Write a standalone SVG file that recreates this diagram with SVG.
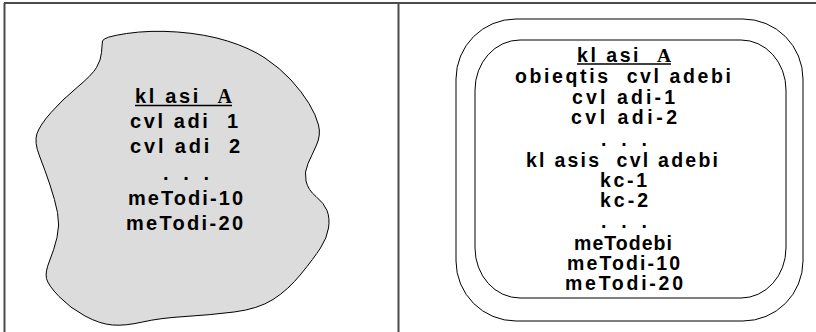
<svg xmlns="http://www.w3.org/2000/svg" width="816" height="332" viewBox="0 0 816 332">
<style>
  .frame { stroke: #4a4a4a; stroke-width: 2; fill: none; }
  .shape { stroke: #000; stroke-width: 1; }
  .t { font-family: "Liberation Sans", Arial, sans-serif; font-weight: bold; fill: #000; white-space: pre; }
  .l { font-size: 20px; }
  .r { font-size: 19.5px; }
  .ser { font-family: "Liberation Serif", "Times New Roman", serif; font-weight: bold; }
  .ul { stroke: #000; stroke-width: 1.3; }
</style>
<rect width="816" height="332" fill="#fff"/>
<g id="frame">
  <line class="frame" x1="4" y1="3" x2="816" y2="3"/>
  <line class="frame" x1="4.5" y1="3" x2="4.5" y2="332"/>
  <line class="frame" x1="398.5" y1="3" x2="398.5" y2="332"/>
</g>
<g id="left-node">
  <path class="shape" fill="#dcdcdc" d="M 126.5,33.5 Q150,30 177.5,32 Q205,34 227.5,41 Q250,48 265,58 Q280,68 291,80 Q302,92 309,103.5 Q316,115 318.5,125 Q321,135 316.5,145 Q312,155 308,163.5 Q304,172 306,181 Q308,190 316,196.5 Q324,203 327,210.5 Q330,218 328.5,228 Q327,238 320.5,248 Q314,258 301,274 Q288,290 273,299.5 Q258,309 234,312 Q210,315 185,316.5 Q160,318 142.5,322 Q125,326 112.5,325 Q100,324 85,316 Q70,308 59,296.5 Q48,285 46.5,278.5 Q45,272 49.5,261 Q54,250 57,237.5 Q60,225 57.5,212.5 Q55,200 50,185 Q45,170 39.5,156 Q34,142 37,133.5 Q40,125 51,112.5 Q62,100 77,87.5 Q92,75 96.5,67.5 Q101,60 101.5,52.5 Q102,45 102.5,41 Q103,37 126.5,33.5 Z"/>
  <text class="t l" x="135" y="103" textLength="97" lengthAdjust="spacing">kl asi  <tspan class="ser">A</tspan></text>
  <line class="ul" x1="135" y1="105.5" x2="232" y2="105.5"/>
  <text class="t l" x="130" y="128" textLength="108" lengthAdjust="spacing">cvl adi  1</text>
  <text class="t l" x="130" y="153" textLength="110" lengthAdjust="spacing">cvl adi  2</text>
  <text class="t l" x="163" y="180" textLength="46" lengthAdjust="spacing">. . .</text>
  <text class="t l" x="128" y="205" textLength="115" lengthAdjust="spacing">meTodi-10</text>
  <text class="t l" x="126" y="230" textLength="117" lengthAdjust="spacing">meTodi-20</text>
</g>
<g id="right-node">
  <rect class="shape" fill="none" x="456" y="19" width="347" height="302" rx="60" ry="60"/>
  <rect class="shape" fill="none" x="475" y="40" width="311" height="258" rx="45" ry="50"/>
  <text class="t r" x="577" y="62" textLength="94" lengthAdjust="spacing">kl asi  <tspan class="ser">A</tspan></text>
  <line class="ul" x1="577" y1="64" x2="671" y2="64"/>
  <text class="t r" x="515" y="83" textLength="216" lengthAdjust="spacing">obieqtis  cvl adebi</text>
  <text class="t r" x="572" y="104" textLength="103" lengthAdjust="spacing">cvl adi-1</text>
  <text class="t r" x="571" y="124" textLength="106" lengthAdjust="spacing">cvl adi-2</text>
  <text class="t r" x="601" y="146" textLength="46" lengthAdjust="spacing">. . .</text>
  <text class="t r" x="526" y="167" textLength="192" lengthAdjust="spacing">kl asis  cvl adebi</text>
  <text class="t r" x="600" y="187" textLength="47" lengthAdjust="spacing">kc-1</text>
  <text class="t r" x="600" y="207" textLength="48" lengthAdjust="spacing">kc-2</text>
  <text class="t r" x="601" y="228" textLength="46" lengthAdjust="spacing">. . .</text>
  <text class="t r" x="574" y="250" textLength="98" lengthAdjust="spacing">meTodebi</text>
  <text class="t r" x="567" y="270" textLength="113" lengthAdjust="spacing">meTodi-10</text>
  <text class="t r" x="565" y="290" textLength="118" lengthAdjust="spacing">meTodi-20</text>
</g>
</svg>
